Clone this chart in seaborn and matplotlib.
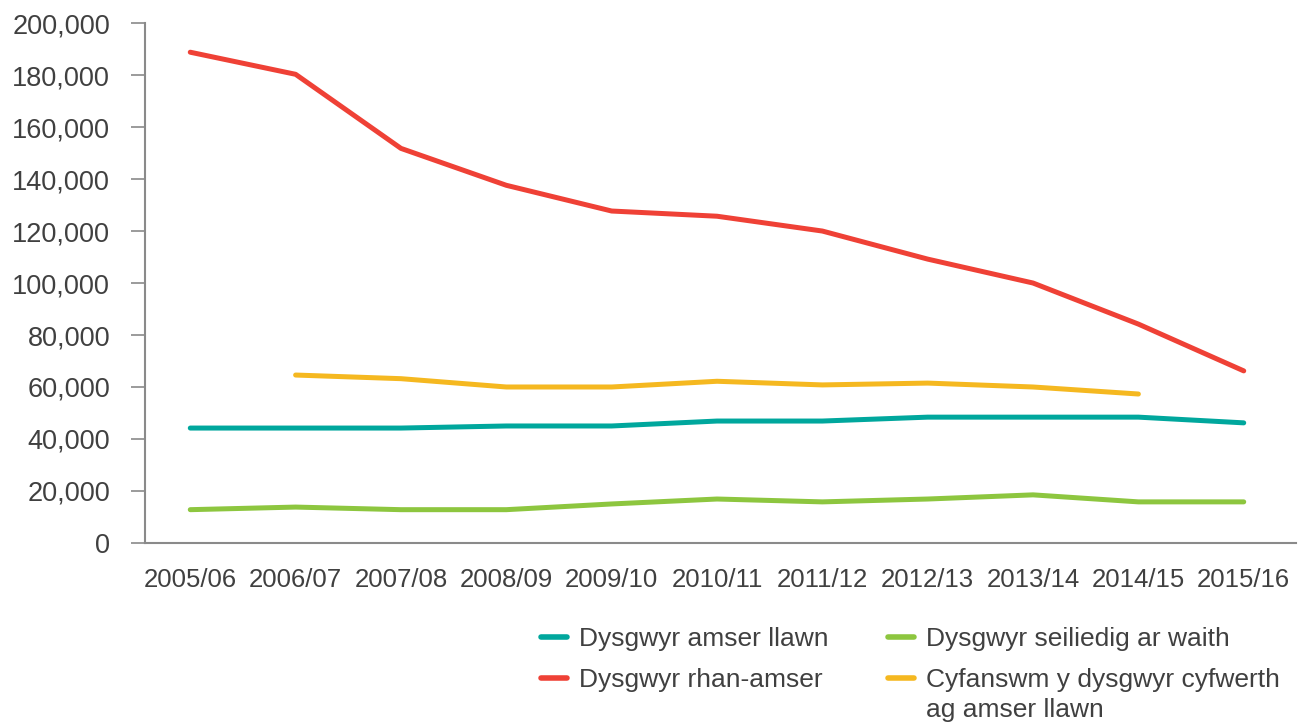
import numpy as np
import pandas as pd
import matplotlib
matplotlib.use("Agg")
import matplotlib.pyplot as plt
import seaborn as sns

# Data
years = ["2005/06", "2006/07", "2007/08", "2008/09", "2009/10", "2010/11",
         "2011/12", "2012/13", "2013/14", "2014/15", "2015/16"]
full_time = [44200, 44200, 44200, 45000, 45000, 46900, 46900, 48400, 48400, 48400, 46200]
part_time = [188800, 180300, 151800, 137600, 127700, 125700, 120000, 109200, 100000, 84200, 66200]
work_based = [12800, 13800, 12800, 12800, 15000, 16900, 15800, 16900, 18500, 15800, 15800]
fte_total = [np.nan, 64600, 63200, 60000, 60000, 62200, 60800, 61500, 60000, 57300, np.nan]

labels = ["Dysgwyr amser llawn", "Dysgwyr rhan-amser",
          "Dysgwyr seiliedig ar waith", "Cyfanswm y dysgwyr cyfwerth"]
label_extra = "ag amser llawn"  # second line of the last legend label
colors = ["#00A79D", "#EF4136", "#8DC63F", "#F5B820"]

rows = []
for name, vals in zip(labels, [full_time, part_time, work_based, fte_total]):
    for i, v in enumerate(vals):
        rows.append({"pos": i, "value": v, "series": name})
df = pd.DataFrame(rows).dropna()

sns.set_style("white")
plt.rcParams["font.family"] = ["Liberation Sans", "DejaVu Sans"]
text_color = "#404040"
spine_color = "#8a8a8a"

fig = plt.figure(figsize=(12.99, 7.22), dpi=100)
ax = fig.add_axes([0.1116, 0.248, 0.8864, 0.72])

sns.lineplot(data=df, x="pos", y="value", hue="series", hue_order=labels,
             palette=dict(zip(labels, colors)), linewidth=3.6, ax=ax,
             legend=True, sort=False)
for line in ax.lines:
    line.set_solid_capstyle("round")

ax.set_xlim(-0.43, 10.5)
ax.set_ylim(0, 200000)
ax.set_yticks(range(0, 200001, 20000))
ax.set_yticklabels([f"{v:,}" for v in range(0, 200001, 20000)])
ax.set_xticks(range(len(years)))
ax.set_xticklabels(years)
ax.set_xlabel("")
ax.set_ylabel("")

for s in ["top", "right"]:
    ax.spines[s].set_visible(False)
for s in ["left", "bottom"]:
    ax.spines[s].set_color(spine_color)
    ax.spines[s].set_linewidth(1.5)

ax.tick_params(axis="y", direction="out", length=10, width=1.2, color=spine_color,
               labelsize=19.5, labelcolor=text_color, pad=15, left=True)
ax.tick_params(axis="x", length=0, labelsize=18.5, labelcolor=text_color, pad=18)

handles, lbls = ax.get_legend_handles_labels()
ax.get_legend().remove()
for h in handles:
    h.set_linewidth(4)
    h.set_solid_capstyle("round")
leg = fig.legend(handles, lbls, ncol=2, loc="upper left",
                 bbox_to_anchor=(0.398, 0.164), frameon=False,
                 fontsize=19, handlelength=1.0, handletextpad=0.45,
                 columnspacing=2.25, labelspacing=0.65, labelcolor=text_color)

fig.canvas.draw()
bb = leg.get_texts()[3].get_window_extent().transformed(fig.transFigure.inverted())
fig.text(bb.x0, bb.y0 - 0.008, label_extra, fontsize=19, color=text_color,
         ha="left", va="top")

fig.savefig("out.png", dpi=100)
